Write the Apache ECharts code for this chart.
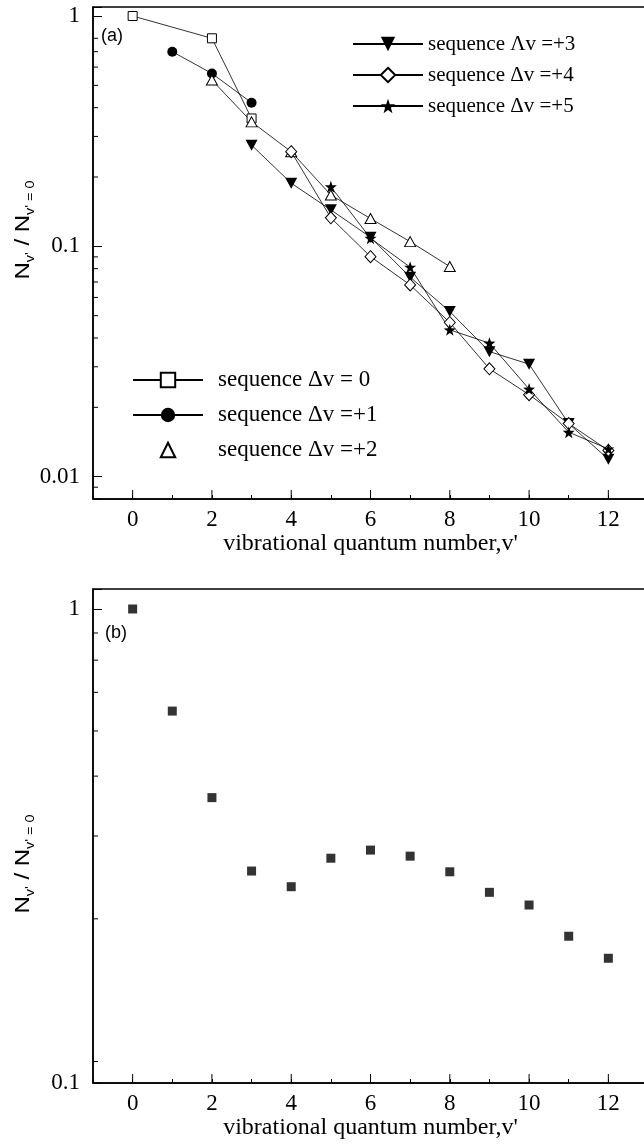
<!DOCTYPE html>
<html><head><meta charset="utf-8">
<script src="https://cdn.jsdelivr.net/npm/echarts@6/dist/echarts.min.js"></script>
<style>html,body{margin:0;padding:0;background:#fff}#c{width:644px;height:1146px}</style>
</head><body><div id="c"></div>
<script>
// ---- data (panel a) ----
const name0 = 'sequence Δv = 0';
const name1 = 'sequence Δv =+1';
const name2 = 'sequence Δv =+2';
const name3 = 'sequence Λv =+3';
const name4 = 'sequence Δv =+4';
const name5 = 'sequence Δv =+5';
const vSeq0 = [0, 2, 3];
const nSeq0 = [1.0, 0.80, 0.359];
const vSeq1 = [1, 2, 3];
const nSeq1 = [0.70, 0.563, 0.420];
const vSeq2 = [2, 3, 4, 5, 6, 7, 8];
const nSeq2 = [0.527, 0.347, 0.2575, 0.167, 0.132, 0.1048, 0.0817];
const vSeq3 = [3, 4, 5, 6, 7, 8, 9, 10, 11, 12];
const nSeq3 = [0.275, 0.188, 0.144, 0.1095, 0.0735, 0.0521, 0.0349, 0.0308, 0.0170, 0.0119];
const vSeq4 = [4, 5, 6, 7, 8, 9, 10, 11, 12];
const nSeq4 = [0.2575, 0.133, 0.0902, 0.068, 0.0467, 0.0294, 0.0227, 0.0170, 0.0130];
const vSeq5 = [5, 6, 7, 8, 9, 10, 11, 12];
const nSeq5 = [0.1815, 0.1084, 0.0812, 0.0434, 0.038, 0.024, 0.0156, 0.0132];
// ---- data (panel b) ----
const vB = [0, 1, 2, 3, 4, 5, 6, 7, 8, 9, 10, 11, 12];
const nB = [1.0, 0.609, 0.400, 0.280, 0.2595, 0.298, 0.310, 0.301, 0.279, 0.2525, 0.2374, 0.204, 0.1833];
// ---- axes / ticks ----
const xTickLabels = [0, 2, 4, 6, 8, 10, 12];
const yTickLabels = [1, 0.1, 0.01];
const topMinorTicks = [0.009, 0.02, 0.03, 0.04, 0.05, 0.06, 0.07, 0.08, 0.09, 0.2, 0.3, 0.4, 0.5, 0.6, 0.7, 0.8];
const bottomMinorTicks = [0.89, 0.78, 0.667, 0.553, 0.444, 0.332, 0.222, 0.111];
const xMin = -1, xMax = 13;
const yMinTop = 0.008, yMaxTop = 1.094;
const yMinBot = 0.1, yMaxBot = 1.102;

const SERIF = 'Liberation Serif';
const SANS = 'Liberation Sans';
const starPath = 'path://M0,-10 L2.35,-3.24 L9.51,-3.09 L3.8,1.24 L5.88,8.09 L0,4 L-5.88,8.09 L-3.8,1.24 L-9.51,-3.09 L-2.35,-3.24 Z';

function pairs(xs, ys) { return xs.map((x, i) => [x, ys[i]]); }
function lineSeries(name, xs, ys, symbol, size, filled, rotate) {
  return {
    name, type: 'line', xAxisIndex: 0, yAxisIndex: 0,
    data: pairs(xs, ys), symbol, symbolSize: size, symbolRotate: rotate || 0,
    showAllSymbol: true, animation: false,
    lineStyle: { color: '#000', width: 0.8 },
    itemStyle: { color: filled ? '#000' : '#fff', borderColor: '#000', borderWidth: filled ? 0 : 1 },
    emphasis: { disabled: true }
  };
}
function yTickSeries(gi, vals) {
  return {
    type: 'custom', xAxisIndex: gi, yAxisIndex: gi, silent: true, animation: false, z: 5,
    data: vals.map(v => [xMin, v]),
    renderItem: (params, api) => {
      const p = api.coord([api.value(0), api.value(1)]);
      return { type: 'line', shape: { x1: p[0], y1: p[1], x2: p[0] + 5, y2: p[1] }, style: { stroke: '#000', lineWidth: 1 } };
    }
  };
}
function xTickSeries(gi, ymin) {
  return {
    type: 'custom', xAxisIndex: gi, yAxisIndex: gi, silent: true, animation: false, z: 5,
    data: xTickLabels.map(v => [v, ymin]),
    renderItem: (params, api) => {
      const p = api.coord([api.value(0), api.value(1)]);
      return { type: 'line', shape: { x1: p[0], y1: p[1], x2: p[0], y2: p[1] - 9 }, style: { stroke: '#000', lineWidth: 1 } };
    }
  };
}
function xAxisCfg(gi) {
  return {
    gridIndex: gi, type: 'value', min: xMin, max: xMax, interval: 1,
    axisLine: { onZero: false, lineStyle: { color: '#000', width: 1.5 } },
    axisTick: { inside: true, length: 4, lineStyle: { color: '#000', width: 1 } },
    splitLine: { show: false },
    axisLabel: { formatter: v => xTickLabels.includes(v) ? String(v) : '', fontFamily: SERIF, fontSize: 23, color: '#000', margin: 9 },
    name: "vibrational quantum number,v'", nameLocation: 'middle', nameGap: 33,
    nameTextStyle: { fontFamily: SERIF, fontSize: 24, color: '#000' }
  };
}
function yAxisCfg(gi, mn, mx) {
  return {
    gridIndex: gi, type: 'log', logBase: 10, min: mn, max: mx,
    axisLine: { show: true, onZero: false, lineStyle: { color: '#000', width: 1.5 } },
    axisTick: { show: true, inside: true, length: 9, lineStyle: { color: '#000', width: 1 } },
    splitLine: { show: false }, minorTick: { show: false },
    axisLabel: {
      formatter: v => { const r = yTickLabels.find(t => Math.abs(t - v) / t < 1e-6); return r === undefined ? '' : String(r); },
      fontFamily: SERIF, fontSize: 23, color: '#000', margin: 13
    }
  };
}
function yTitle(x, y) {
  return {
    type: 'text', x, y, rotation: Math.PI / 2, scaleX: 1.2, z: 10,
    style: {
      text: "{a|N}{b|v'}{a| / N}{b|v' = 0}",
      rich: {
        a: { fontFamily: SANS, fontSize: 20, lineHeight: 28, verticalAlign: 'middle', fill: '#000' },
        b: { fontFamily: SANS, fontSize: 12, lineHeight: 12, verticalAlign: 'bottom', fill: '#000' }
      },
      align: 'center', verticalAlign: 'middle', fill: '#000'
    }
  };
}
const legendText = (fs, lh, pad) => ({ fontFamily: SERIF, fontSize: fs, lineHeight: lh, color: '#000', padding: pad });

const chart = echarts.init(document.getElementById('c'), null, { renderer: 'canvas' });
chart.setOption({
  animation: false,
  backgroundColor: '#fff',
  grid: [
    { left: 93, top: 7, width: 555, height: 492, show: true, borderColor: '#000', borderWidth: 1.5, containLabel: false, outerBoundsMode: 'none' },
    { left: 93, top: 589, width: 555, height: 494, show: true, borderColor: '#000', borderWidth: 1.5, containLabel: false, outerBoundsMode: 'none' }
  ],
  xAxis: [xAxisCfg(0), xAxisCfg(1)],
  yAxis: [yAxisCfg(0, yMinTop, yMaxTop), yAxisCfg(1, yMinBot, yMaxBot)],
  legend: [
    {
      left: 352, top: 33, orient: 'vertical', padding: 0, itemGap: 9, itemWidth: 70, itemHeight: 18,
      selectedMode: false, textStyle: legendText(21, 22, [0, 0, 0, 0]),
      data: [name3, name4, name5]
    },
    {
      left: 132, top: 368, orient: 'vertical', padding: 0, itemGap: 11, itemWidth: 70, itemHeight: 18,
      selectedMode: false, textStyle: legendText(23, 24, [0, 0, 0, 10]),
      data: [name0, name1, { name: name2, lineStyle: { opacity: 0 } }]
    }
  ],
  graphic: [
    yTitle(23, 230),
    yTitle(23, 864),
    { type: 'text', x: 101, y: 36, z: 10, style: { text: '(a)', font: '18px "Liberation Sans"', fill: '#000', align: 'left', verticalAlign: 'middle' } },
    { type: 'text', x: 105, y: 633, z: 10, style: { text: '(b)', font: '18px "Liberation Sans"', fill: '#000', align: 'left', verticalAlign: 'middle' } }
  ],
  series: [
    lineSeries(name0, vSeq0, nSeq0, 'rect', 9, false),
    lineSeries(name1, vSeq1, nSeq1, 'circle', 10, true),
    lineSeries(name2, vSeq2, nSeq2, 'triangle', [11, 10], false),
    lineSeries(name3, vSeq3, nSeq3, 'triangle', [12, 11], true, 180),
    lineSeries(name4, vSeq4, nSeq4, 'diamond', [11, 12], false),
    lineSeries(name5, vSeq5, nSeq5, starPath, 12, true),
    {
      name: 'panel b', type: 'scatter', xAxisIndex: 1, yAxisIndex: 1, data: pairs(vB, nB),
      symbol: 'rect', symbolSize: 9, itemStyle: { color: '#000' }, animation: false, emphasis: { disabled: true }
    },
    yTickSeries(0, topMinorTicks),
    yTickSeries(1, bottomMinorTicks),
    xTickSeries(0, yMinTop),
    xTickSeries(1, yMinBot)
  ]
});
</script></body></html>
